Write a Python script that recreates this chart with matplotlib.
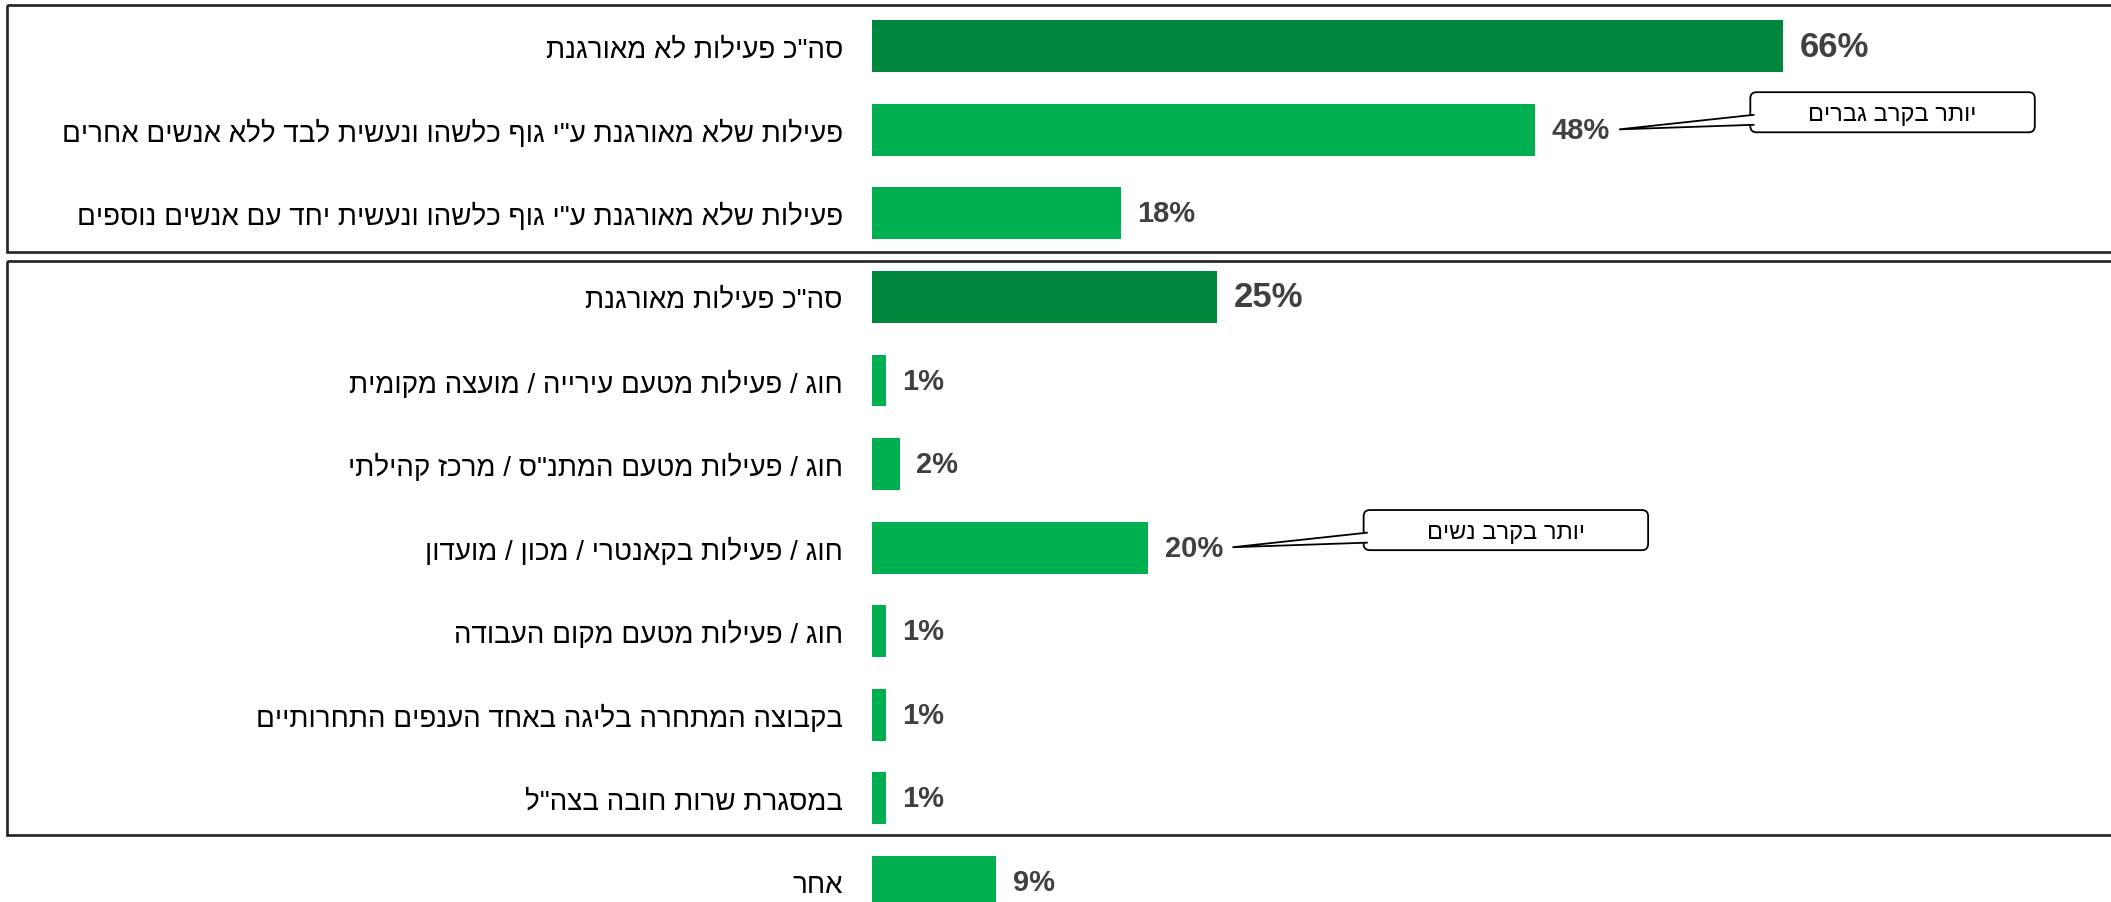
import matplotlib
matplotlib.use("Agg")
import matplotlib.pyplot as plt
from matplotlib.patches import Rectangle, FancyBboxPatch, Polygon
from matplotlib import transforms

plt.rcParams['font.family'] = ['Liberation Sans', 'DejaVu Sans']

# answer categories, top to bottom
categories = [
    'סה"כ פעילות לא מאורגנת',
    'פעילות שלא מאורגנת ע"י גוף כלשהו ונעשית לבד ללא אנשים אחרים',
    'פעילות שלא מאורגנת ע"י גוף כלשהו ונעשית יחד עם אנשים נוספים',
    'סה"כ פעילות מאורגנת',
    'חוג / פעילות מטעם עירייה / מועצה מקומית',
    'חוג / פעילות מטעם המתנ"ס / מרכז קהילתי',
    'חוג / פעילות בקאנטרי / מכון / מועדון',
    'חוג / פעילות מטעם מקום העבודה',
    'בקבוצה המתחרה בליגה באחד הענפים התחרותיים',
    'במסגרת שרות חובה בצה"ל',
    'אחר',
]
values = [66, 48, 18, 25, 1, 2, 20, 1, 1, 1, 9]
is_total = [True, False, False, True, False, False, False, False, False, False, False]

# groups framed by a box: (first row, last row)
groups = [(0, 2), (3, 9)]

# callout notes: (row, text)
notes = [(1, 'יותר בקרב גברים'), (6, 'יותר בקרב נשים')]

GREEN = '#00B050'
DARK_GREEN = '#00873E'
VALUE_COLOR = '#404040'


def rtl(s):
    # matplotlib lays text out left to right, so flip hebrew strings
    return s[::-1]


W, H = 2111, 903
fig = plt.figure(figsize=(W / 100, H / 100), dpi=100)
left = 872 / W
ax = fig.add_axes([left, 0, 1 - left, 1])

rows = list(range(len(categories)))
colors = [DARK_GREEN if t else GREEN for t in is_total]
ax.barh(rows, values, height=0.62, color=colors)

ax.set_xlim(0, (W - 872) / 13.81)
ax.set_ylim(10.24, -0.565)
ax.set_xticks([])
ax.set_yticks(rows, [rtl(c) for c in categories])
ax.tick_params(axis='y', length=0, pad=21, labelsize=20)
for s in ax.spines.values():
    s.set_visible(False)

# value labels
for r, v, t in zip(rows, values, is_total):
    ax.annotate(f'{v}%', (v, r), xytext=(12, 0), textcoords='offset points',
                ha='left', va='center', fontsize=25 if t else 21,
                fontweight='bold', color=VALUE_COLOR)

# frames around the groups, from the left margin past the right edge
blend = transforms.blended_transform_factory(fig.transFigure, ax.transData)
for (first, last), (pad_top, pad_bottom) in zip(groups, [(0.49, 0.467), (0.426, 0.44)]):
    y0 = first - pad_top
    y1 = last + pad_bottom
    ax.add_patch(Rectangle((7 / W, y0), 1.02 - 7 / W, y1 - y0, transform=blend,
                           fill=False, edgecolor='#222222', linewidth=1.9,
                           clip_on=False))

# callout boxes with a wedge pointing at the value label
aspect = 13.81 / 83.6
for r, text in notes:
    v = values[r]
    x0 = v + 15.6
    bw = 20.6
    top, bottom = r - 0.45, r + 0.03
    box = FancyBboxPatch((x0, top), bw, bottom - top,
                         boxstyle='round,pad=0,rounding_size=0.45',
                         mutation_aspect=aspect, facecolor='white',
                         edgecolor='black', linewidth=1.3, zorder=3)
    ax.add_patch(box)
    wedge = Polygon([(x0 + 0.3, r - 0.18), (v + 6.1, r - 0.005), (x0 + 0.3, r - 0.06)],
                    closed=False, facecolor='white', edgecolor='black',
                    linewidth=1.3, zorder=4)
    ax.add_patch(wedge)
    ax.text(x0 + bw / 2, r - 0.19, rtl(text), ha='center', va='center',
            fontsize=17, color='black', zorder=5)

fig.savefig('out.png', dpi=100)
